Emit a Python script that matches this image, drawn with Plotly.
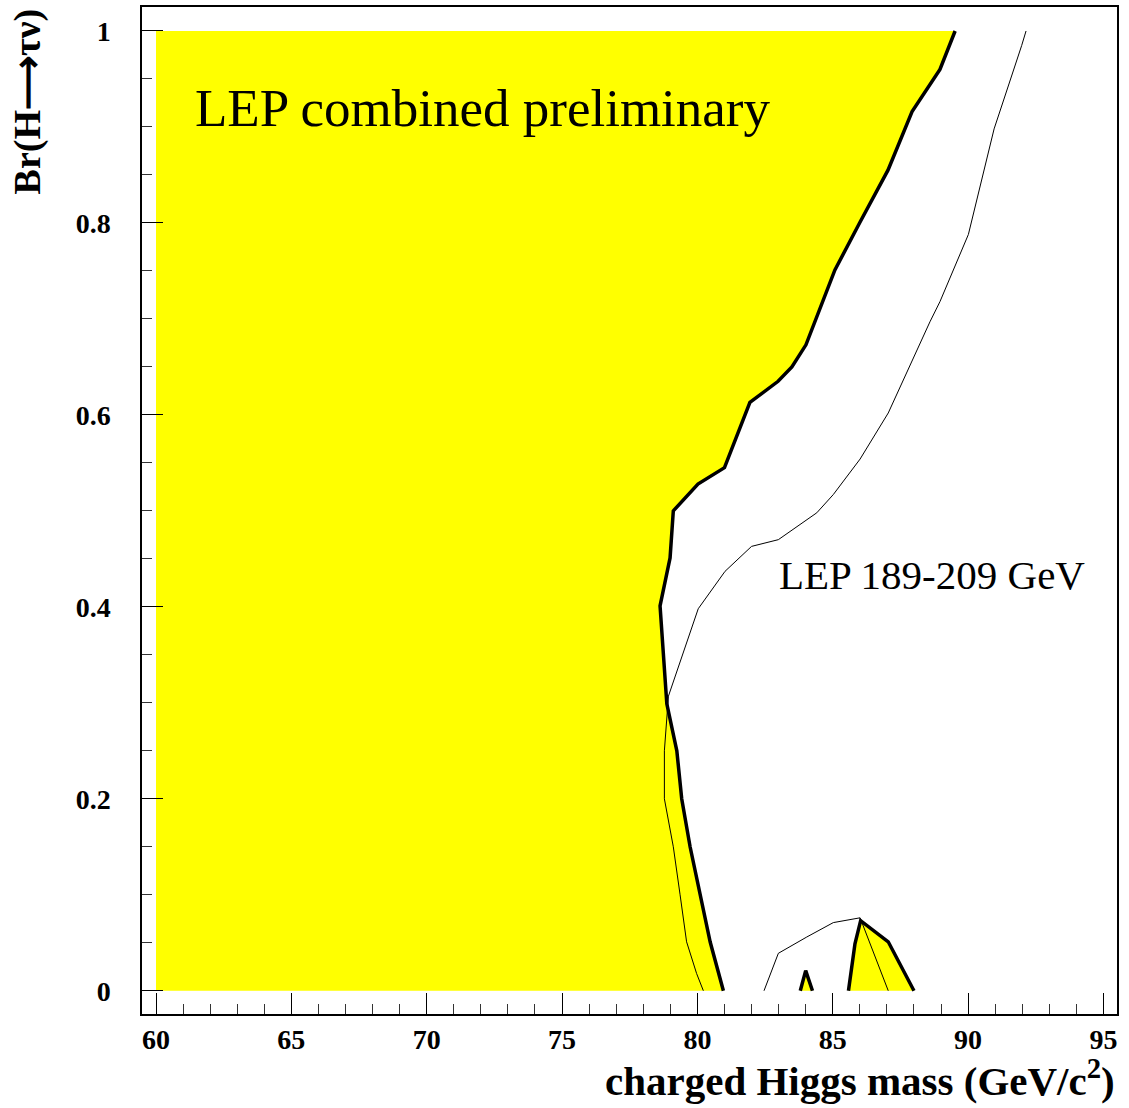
import plotly.graph_objects as go

# Observed 95% CL exclusion boundary (charged Higgs mass vs Br(H -> tau nu))
obs_mass = [89.52, 88.96, 87.93, 87.04, 86.01, 85.08, 84.01, 83.49, 82.98, 81.94,
            81.00, 80.02, 79.11, 79.05, 78.99, 78.62, 78.75, 78.87, 79.24, 79.42,
            79.73, 80.10, 80.47, 80.96]
obs_br = [1.000, 0.960, 0.916, 0.855, 0.801, 0.751, 0.673, 0.650, 0.635, 0.613,
          0.545, 0.528, 0.500, 0.475, 0.451, 0.401, 0.350, 0.299, 0.250, 0.200,
          0.150, 0.100, 0.051, 0.000]

# Expected boundary
exp_mass = [92.14, 91.98, 90.96, 90.01, 88.96, 88.59, 87.05, 86.01, 85.02, 84.41,
            82.99, 82.00, 81.02, 80.03, 78.93, 78.78, 78.78, 79.11, 79.36, 79.60,
            79.97, 80.22]
exp_br = [1.000, 0.985, 0.898, 0.788, 0.718, 0.697, 0.602, 0.554, 0.517, 0.498,
          0.470, 0.463, 0.437, 0.398, 0.307, 0.250, 0.200, 0.150, 0.100, 0.051,
          0.018, 0.000]

# Expected boundary, low-Br island
exp2_mass = [82.46, 82.99, 84.04, 85.02, 86.01, 87.05]
exp2_br = [0.000, 0.039, 0.056, 0.071, 0.076, 0.000]

# Small observed excluded islands near Br = 0
isl1_mass = [83.80, 84.00, 84.25]
isl1_br = [0.000, 0.021, 0.000]
isl2_mass = [85.58, 85.82, 86.03, 87.05, 88.00]
isl2_br = [0.000, 0.049, 0.073, 0.051, 0.000]

MASS_MIN = 60.0
BR_MAX = 1.0

YELLOW = "#ffff00"
FONT = "Liberation Serif"

fig = go.Figure()

# Main excluded region: from the left edge out to the observed boundary
fill_x = [MASS_MIN, MASS_MIN] + obs_mass
fill_y = [0.0, BR_MAX] + obs_br
fig.add_trace(go.Scatter(x=fill_x, y=fill_y, mode="lines", fill="toself",
                         fillcolor=YELLOW, line=dict(width=0), hoverinfo="skip",
                         showlegend=False))
for mx, by in ((isl1_mass, isl1_br), (isl2_mass, isl2_br)):
    fig.add_trace(go.Scatter(x=mx, y=by, mode="lines", fill="toself",
                             fillcolor=YELLOW, line=dict(width=0),
                             hoverinfo="skip", showlegend=False))

# Expected limits (thin)
for mx, by in ((exp_mass, exp_br), (exp2_mass, exp2_br)):
    fig.add_trace(go.Scatter(x=mx, y=by, mode="lines",
                             line=dict(color="black", width=1),
                             showlegend=False))

# Observed limits (thick)
for mx, by in ((obs_mass, obs_br), (isl1_mass, isl1_br), (isl2_mass, isl2_br)):
    fig.add_trace(go.Scatter(x=mx, y=by, mode="lines",
                             line=dict(color="black", width=3.5),
                             showlegend=False))

tickfont = dict(family=FONT, size=28, color="black", weight="bold")

fig.update_xaxes(range=[59.483, 95.50], tickmode="array",
                 tickvals=[60, 65, 70, 75, 80, 85, 90, 95],
                 ticktext=["60", "65", "70", "75", "80", "85", "90", "95"],
                 ticks="inside", ticklen=21, tickwidth=1, tickcolor="black",
                 minor=dict(ticks="inside", ticklen=10, dtick=1, tick0=60,
                            tickwidth=1, tickcolor="#333333"),
                 showline=True, linecolor="black", linewidth=1.5, mirror=True,
                 showgrid=False, zeroline=False, tickfont=tickfont,
                 ticklabelstandoff=0)
fig.update_yaxes(range=[-0.02423, 1.0250], tickmode="array",
                 tickvals=[0, 0.2, 0.4, 0.6, 0.8, 1.0],
                 ticktext=["0", "0.2", "0.4", "0.6", "0.8", "1"],
                 ticks="inside", ticklen=21, tickwidth=1, tickcolor="black",
                 minor=dict(ticks="inside", ticklen=10, dtick=0.05, tick0=0,
                            tickwidth=1, tickcolor="#333333"),
                 showline=True, linecolor="black", linewidth=1.5, mirror=True,
                 showgrid=False, zeroline=False, tickfont=tickfont,
                 ticklabelstandoff=24)

annotations = [
    dict(text="LEP combined preliminary", x=61.37, y=0.9196, xref="x", yref="y",
         xanchor="left", yanchor="middle", showarrow=False,
         font=dict(family=FONT, size=53, color="black")),
    dict(text="LEP 189-209 GeV", x=82.94, y=0.4336, xref="x", yref="y",
         xanchor="left", yanchor="middle", showarrow=False,
         font=dict(family=FONT, size=41, color="black")),
    dict(text="charged Higgs mass (GeV/c<sup>2</sup>)", x=1.0, y=-0.0634,
         xref="paper", yref="paper", xanchor="right", yanchor="middle",
         showarrow=False,
         font=dict(family=FONT, size=41, color="black", weight="bold")),
    dict(text="Br(H\u27f6\u03c4\u03bd)", x=-0.1165, y=1.001, xref="paper",
         yref="paper", xanchor="center", yanchor="top", textangle=-90,
         showarrow=False,
         font=dict(family=FONT, size=38, color="black", weight="bold")),
]

fig.update_layout(width=1129, height=1108,
                  margin=dict(l=142, r=12, t=5, b=94),
                  paper_bgcolor="white", plot_bgcolor="white",
                  annotations=annotations, showlegend=False)

fig.write_html("out.html")
